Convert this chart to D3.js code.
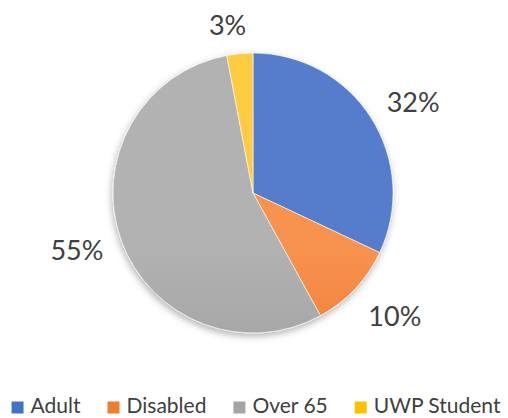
<!DOCTYPE html>
<html>
<head>
<meta charset="utf-8">
<script src="https://cdn.jsdelivr.net/npm/d3@7"></script>
<style>
  body { margin: 0; background: #fff; }
  text { font-family: Lato, "Open Sans", sans-serif; fill: #404040; }
</style>
</head>
<body>
<div id="chart"></div>
<script>
// data
var categories = ["Adult", "Disabled", "Over 65", "UWP Student"];
var values = [32, 10, 55, 3];
var labels = ["32%", "10%", "55%", "3%"];
var colorsTop = ["#577dcb", "#f8924f", "#b2b2b2", "#ffcb40"];
var colorsBottom = ["#2955b5", "#e3671a", "#909090", "#f0b400"];
var legendColors = ["#4472c4", "#ed7d31", "#a5a5a5", "#ffc000"];

var width = 508, height = 418;
var cx = 253, cy = 193, radius = 140;

var svg = d3.select("#chart").append("svg")
    .attr("width", width)
    .attr("height", height);

var defs = svg.append("defs");

var shadow = defs.append("filter").attr("id", "shadow")
    .attr("x", "-20%").attr("y", "-20%").attr("width", "140%").attr("height", "140%");
shadow.append("feDropShadow")
    .attr("dx", -1).attr("dy", 3)
    .attr("stdDeviation", 3.5)
    .attr("flood-color", "#000")
    .attr("flood-opacity", 0.3);

categories.forEach(function (c, i) {
  var g = defs.append("linearGradient")
      .attr("id", "grad" + i)
      .attr("gradientUnits", "userSpaceOnUse")
      .attr("x1", 0).attr("y1", cy - radius)
      .attr("x2", 0).attr("y2", cy + radius);
  g.append("stop").attr("offset", "0%").attr("stop-color", colorsTop[i]);
  g.append("stop").attr("offset", "100%").attr("stop-color", colorsBottom[i]);
});

var pie = d3.pie().sort(null).value(function (d) { return d; });
var arc = d3.arc().innerRadius(0).outerRadius(radius);
var arcs = pie(values);

var pieG = svg.append("g")
    .attr("transform", "translate(" + cx + "," + cy + ")")
    .attr("filter", "url(#shadow)");

pieG.selectAll("path")
  .data(arcs)
  .enter()
  .append("path")
    .attr("d", arc)
    .attr("fill", function (d, i) { return "url(#grad" + i + ")"; })
    .attr("stroke", "#fff")
    .attr("stroke-width", 0.6);

// outside labels (best fit style)
var labelArc = d3.arc().innerRadius(radius + 45).outerRadius(radius + 45);
var labelNudge = [[4, 8], [7, -3.5], [-2, -5], [-8, 16]];

svg.append("g")
    .attr("transform", "translate(" + cx + "," + cy + ")")
  .selectAll("text")
  .data(arcs)
  .enter()
  .append("text")
    .attr("x", function (d, i) { return labelArc.centroid(d)[0] + labelNudge[i][0]; })
    .attr("y", function (d, i) { return labelArc.centroid(d)[1] + labelNudge[i][1]; })
    .attr("dy", "0.36em")
    .attr("text-anchor", "middle")
    .style("font-size", "27px")
    .text(function (d, i) { return labels[i]; });

// legend
var legend = svg.append("g").attr("transform", "translate(0,413)");
var items = legend.selectAll("g")
  .data(categories)
  .enter()
  .append("g");

items.append("rect")
    .attr("y", -11.5)
    .attr("width", 12)
    .attr("height", 12)
    .attr("fill", function (d, i) { return legendColors[i]; });

items.append("text")
    .attr("x", 19)
    .style("font-size", "21px")
    .text(function (d) { return d; });

var x = 0, positions = [];
items.each(function () {
  positions.push(x);
  var w = d3.select(this).select("text").node().getComputedTextLength();
  x += 19 + w + 27;
});
var total = x - 27;
var startX = 256 - total / 2;
items.attr("transform", function (d, i) { return "translate(" + (startX + positions[i]) + ",0)"; });
</script>
</body>
</html>
